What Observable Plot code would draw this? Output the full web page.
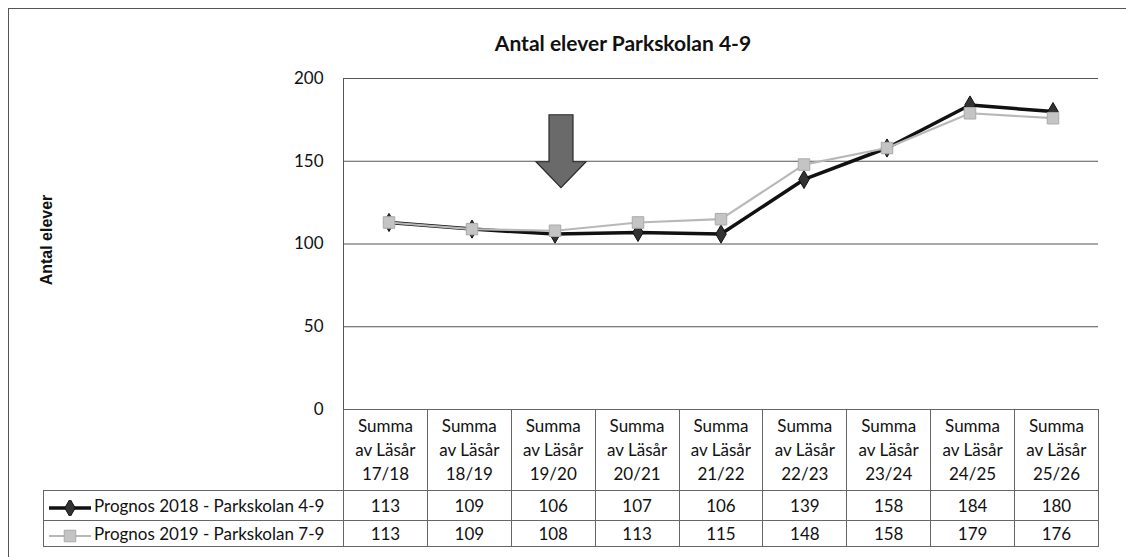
<!DOCTYPE html>
<html><head><meta charset="utf-8">
<script src="https://cdn.jsdelivr.net/npm/d3@7"></script>
<script src="https://cdn.jsdelivr.net/npm/@observablehq/plot@0.6"></script>
<style>
html,body{margin:0;padding:0;background:#fff;}
#wrap{position:relative;width:1126px;height:557px;overflow:hidden;font-family:Lato,"Open Sans",sans-serif;color:#111;}
#frame{position:absolute;left:8px;top:8px;width:1300px;height:700px;border:1px solid #555;box-sizing:border-box;}
#title{position:absolute;left:0;width:1246px;top:30px;text-align:center;font-weight:bold;font-size:21px;color:#111;}
#ylabel{position:absolute;left:47px;top:240px;transform:translate(-50%,-50%) rotate(-90deg);font-family:"Liberation Sans",Arial,sans-serif;font-weight:bold;font-size:16px;white-space:nowrap;}
#chart{position:absolute;left:0;top:0;}
#tbl{position:absolute;border-collapse:collapse;table-layout:fixed;font-size:17px;}
#tbl td{border:1px solid #666;text-align:center;padding:0;}
#tbl td.empty{border:none;}
#tbl td.hdr{line-height:24px;vertical-align:middle;}
#tbl td.leg{text-align:left;white-space:nowrap;padding-left:3px;}
#tbl td.leg svg{vertical-align:middle;margin-right:1px;}
</style></head>
<body><div id="wrap"><div id="frame"></div><div id="title"></div><div id="ylabel"></div></div>
<script>
const titleText = "Antal elever Parkskolan 4-9";
const yLabel = "Antal elever";
const years = ["17/18","18/19","19/20","20/21","21/22","22/23","23/24","24/25","25/26"];
const categories = years.map(y => `Summa av Läsår ${y}`);
const seriesNames = ["Prognos 2018 - Parkskolan 4-9","Prognos 2019 - Parkskolan 7-9"];
const prognos2018 = [113,109,106,107,106,139,158,184,180];
const prognos2019 = [113,109,108,113,115,148,158,179,176];
const yTicks = [0,50,100,150,200];
const arrowYear = "19/20";
const arrowTipValue = 134;

const d2018 = categories.map((c,i)=>({cat:c, value:prognos2018[i]}));
const d2019 = categories.map((c,i)=>({cat:c, value:prognos2019[i]}));
const arrowData = [{cat:`Summa av Läsår ${arrowYear}`, value:arrowTipValue}];

const arrowSymbol = {draw(ctx){
  ctx.moveTo(-12,-73); ctx.lineTo(12,-73); ctx.lineTo(12,-26); ctx.lineTo(25,-26);
  ctx.lineTo(0,0); ctx.lineTo(-25,-26); ctx.lineTo(-12,-26); ctx.closePath();
}};

const styles = {
  s1:{stroke:"#111", strokeWidth:3.5, fill:"#333", symbol:"diamond", r:5.5},
  s2:{stroke:"#b8b8b8", strokeWidth:2.2, fill:"#c4c4c4", symbol:"square", r:6.5}
};

const chart = Plot.plot({
  width:1126, height:557,
  marginLeft:343, marginRight:28, marginTop:78, marginBottom:148,
  style:{background:"transparent", fontFamily:"Lato, sans-serif", fontSize:"17px", color:"#111", overflow:"visible"},
  x:{type:"band", domain:categories, padding:0, axis:null},
  y:{domain:[0,200], ticks:yTicks, tickSize:0, tickPadding:20, label:null},
  marks:[
    Plot.ruleY(yTicks, {stroke:"#555", strokeWidth:1}),
    Plot.frame({anchor:"left", stroke:"#555"}),
    Plot.dot(arrowData, {x:"cat", y:"value", symbol:arrowSymbol, r:10, fill:"#6a6a6a", stroke:"#2a2a2a", strokeWidth:1.2, dx:6}),
    Plot.line(d2018, {x:"cat", y:"value", stroke:styles.s1.stroke, strokeWidth:styles.s1.strokeWidth}),
    Plot.dot(d2018, {x:"cat", y:"value", symbol:"diamond", r:styles.s1.r, fill:styles.s1.fill, stroke:"#111", strokeWidth:1}),
    Plot.line(d2019, {x:"cat", y:"value", stroke:styles.s2.stroke, strokeWidth:styles.s2.strokeWidth}),
    Plot.dot(d2019, {x:"cat", y:"value", symbol:"square", r:styles.s2.r, fill:styles.s2.fill, stroke:"#aaa", strokeWidth:1})
  ]
});
chart.id = "chart";
const wrap = document.getElementById("wrap");
wrap.appendChild(chart);
document.getElementById("title").textContent = titleText;
document.getElementById("ylabel").textContent = yLabel;

// data table aligned to the x scale
const xs = chart.scale("x");
const ys = chart.scale("y");
const colW = (xs.range[1]-xs.range[0]) / xs.domain.length;
const legW = 300;
const tbl = document.createElement("table");
tbl.id = "tbl";
tbl.style.left = (xs.range[0]-legW) + "px";
tbl.style.top = ys.apply(0) + "px";
tbl.style.width = (legW + colW*xs.domain.length) + "px";
const cg = document.createElement("colgroup");
[legW, ...xs.domain.map(()=>colW)].forEach(w=>{const c=document.createElement("col"); c.style.width=w+"px"; cg.appendChild(c);});
tbl.appendChild(cg);
const hr = document.createElement("tr"); hr.style.height = "81px";
const e = document.createElement("td"); e.className="empty"; hr.appendChild(e);
years.forEach(y=>{const td=document.createElement("td"); td.className="hdr"; td.innerHTML=`Summa<br>av Läsår<br>${y}`; hr.appendChild(td);});
tbl.appendChild(hr);
function swatch(st){
  const s = d3.create("svg").attr("width",46).attr("height",16);
  s.append("line").attr("x1",2).attr("x2",44).attr("y1",8).attr("y2",8).attr("stroke",st.stroke).attr("stroke-width",st.strokeWidth);
  const sym = st.symbol==="diamond" ? d3.symbolDiamond : d3.symbolSquare;
  s.append("path").attr("transform","translate(23,8)").attr("d",d3.symbol(sym, Math.PI*st.r*st.r)()).attr("fill",st.fill).attr("stroke",st.symbol==="diamond"?"#111":"#aaa");
  return s.node();
}
[[seriesNames[0], prognos2018, styles.s1, 30],[seriesNames[1], prognos2019, styles.s2, 26]].forEach(([name, vals, st, h])=>{
  const tr=document.createElement("tr"); tr.style.height=h+"px";
  const lt=document.createElement("td"); lt.className="leg"; lt.appendChild(swatch(st)); lt.appendChild(document.createTextNode(name)); tr.appendChild(lt);
  vals.forEach(v=>{const td=document.createElement("td"); td.textContent=v; tr.appendChild(td);});
  tbl.appendChild(tr);
});
wrap.appendChild(tbl);
</script>
</body></html>
